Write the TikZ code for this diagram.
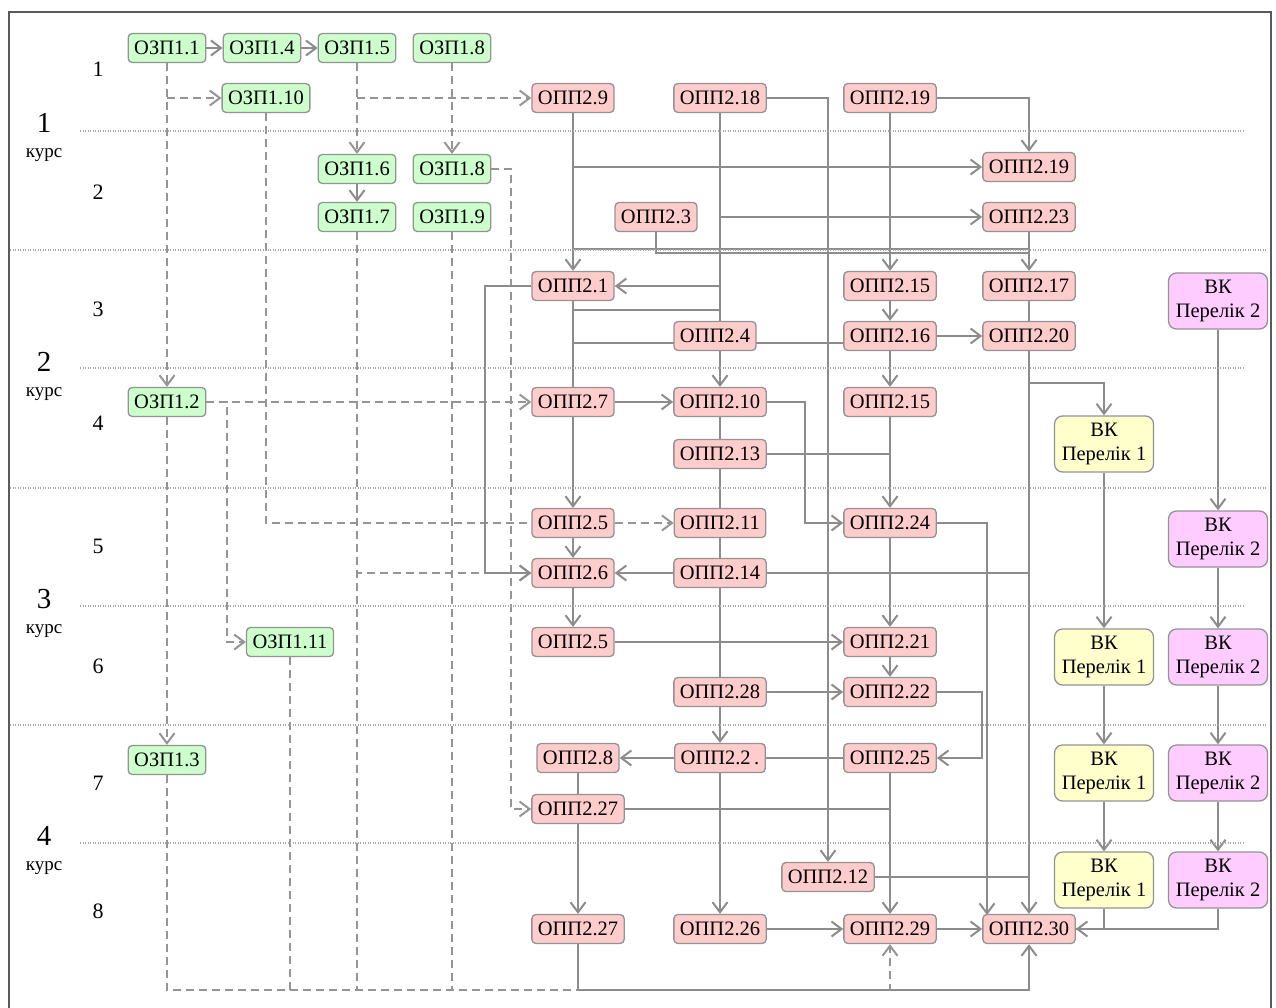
\documentclass[tikz,border=0pt]{standalone}
\usepackage{fontspec}
\setmainfont{Liberation Serif}
\usetikzlibrary{arrows.meta,calc}
\pgfdeclarelayer{bg}
\pgfsetlayers{bg,main}
\definecolor{lc}{HTML}{8C8C8C}
\definecolor{dc}{HTML}{959595}
\definecolor{bc}{HTML}{939393}
\definecolor{sc}{HTML}{A8A8A8}
\definecolor{fc}{HTML}{5A5A5A}
\definecolor{gfill}{HTML}{CCFFCC}
\definecolor{rfill}{HTML}{FFCCCC}
\definecolor{yfill}{HTML}{FFFFCC}
\definecolor{pfill}{HTML}{FFCCFF}
\begin{document}
\begin{tikzpicture}[x=1pt,y=-1pt,
  box/.style={draw=bc, line width=1.3pt, rounded corners=4pt, minimum height=29pt,
    inner xsep=6pt, inner ysep=0pt, font=\fontsize{20.5}{22}\selectfont, text=black},
  gbox/.style={box, fill=gfill},
  rbox/.style={box, fill=rfill},
  vk/.style={box, minimum width=99pt, minimum height=56pt, rounded corners=8pt, align=center,
    inner xsep=3pt, font=\fontsize{20.5}{24}\selectfont},
  ybox/.style={vk, fill=yfill},
  pbox/.style={vk, fill=pfill},
  con/.style={draw=lc, line width=2pt},
  dcon/.style={draw=dc, line width=2pt, dash pattern=on 8pt off 5pt},
  sepline/.style={draw=sc, line width=1.2pt, dash pattern=on 1.2pt off 1.3pt},
  semlbl/.style={anchor=base, font=\fontsize{22}{24}\selectfont},
  crsnum/.style={anchor=base, font=\fontsize{29}{30}\selectfont},
  crslbl/.style={anchor=base, font=\fontsize{19}{20}\selectfont},
  >={Straight Barb[length=10pt,width=15pt]}]
\useasboundingbox (0,0) rectangle (1276,1008);
\clip (0,0) rectangle (1276,1008);
\draw[fc, line width=2pt] (9,12) rectangle (1271,1030);

% separators
\foreach \yy in {250,488,725} {\draw[sepline] (10,\yy) -- (1267,\yy);}
\foreach \yy in {131,368,606,843} {\draw[sepline] (80,\yy) -- (1245,\yy);}

% labels
\foreach \n/\b in {1/77,2/200,3/316,4/430,5/553,6/673,7/790,8/918} {\node[semlbl] at (98,\b) {\n};}
\foreach \n/\b in {1/133,2/371,3/608,4/845} {
  \node[crsnum] at (44,\b) {\n};
  \node[crslbl] at (44,\b+25) {курс};}

% green nodes
\node[gbox] (z11) at (167,48) {ОЗП1.1};
\node[gbox] (z14) at (262,48) {ОЗП1.4};
\node[gbox] (z15) at (357,48) {ОЗП1.5};
\node[gbox] (z18a) at (452,48) {ОЗП1.8};
\node[gbox] (z110) at (266,98) {ОЗП1.10};
\node[gbox] (z16) at (357,169) {ОЗП1.6};
\node[gbox] (z18b) at (452,169) {ОЗП1.8};
\node[gbox] (z17) at (357,217) {ОЗП1.7};
\node[gbox] (z19) at (452,217) {ОЗП1.9};
\node[gbox] (z12) at (167,402) {ОЗП1.2};
\node[gbox] (z111) at (290,642) {ОЗП1.11};
\node[gbox] (z13) at (167,760) {ОЗП1.3};

% red nodes
\node[rbox] (p9) at (573,98) {ОПП2.9};
\node[rbox] (p18) at (720,98) {ОПП2.18};
\node[rbox] (p19a) at (890,98) {ОПП2.19};
\node[rbox] (p19b) at (1029,167) {ОПП2.19};
\node[rbox] (p3) at (656,217) {ОПП2.3};
\node[rbox] (p23) at (1029,217) {ОПП2.23};
\node[rbox] (p1) at (573,286) {ОПП2.1};
\node[rbox] (p15a) at (890,286) {ОПП2.15};
\node[rbox] (p17) at (1029,286) {ОПП2.17};
\node[rbox] (p4) at (715,336) {ОПП2.4};
\node[rbox] (p16) at (890,336) {ОПП2.16};
\node[rbox] (p20) at (1029,336) {ОПП2.20};
\node[rbox] (p7) at (573,402) {ОПП2.7};
\node[rbox] (p10) at (720,402) {ОПП2.10};
\node[rbox] (p15b) at (890,402) {ОПП2.15};
\node[rbox] (p13) at (720,454) {ОПП2.13};
\node[rbox] (p5a) at (573,523) {ОПП2.5};
\node[rbox] (p11) at (720,523) {ОПП2.11};
\node[rbox] (p24) at (890,523) {ОПП2.24};
\node[rbox] (p6) at (573,573) {ОПП2.6};
\node[rbox] (p14) at (720,573) {ОПП2.14};
\node[rbox] (p5b) at (573,642) {ОПП2.5};
\node[rbox] (p21) at (890,642) {ОПП2.21};
\node[rbox] (p28) at (720,692) {ОПП2.28};
\node[rbox] (p22) at (890,692) {ОПП2.22};
\node[rbox] (p8) at (578,758) {ОПП2.8};
\node[rbox] (p2) at (720,758) {ОПП2.2\,.};
\node[rbox] (p25) at (890,758) {ОПП2.25};
\node[rbox] (p27a) at (578,809) {ОПП2.27};
\node[rbox] (p12) at (828,877) {ОПП2.12};
\node[rbox] (p27b) at (578,929) {ОПП2.27};
\node[rbox] (p26) at (720,929) {ОПП2.26};
\node[rbox] (p29) at (890,929) {ОПП2.29};
\node[rbox] (p30) at (1029,929) {ОПП2.30};

% VK nodes
\node[ybox] (v1a) at (1104,444) {ВК\\Перелік 1};
\node[ybox] (v1b) at (1104,657) {ВК\\Перелік 1};
\node[ybox] (v1c) at (1104,773) {ВК\\Перелік 1};
\node[ybox] (v1d) at (1104,880) {ВК\\Перелік 1};
\node[pbox] (v2a) at (1218,301) {ВК\\Перелік 2};
\node[pbox] (v2b) at (1218,539) {ВК\\Перелік 2};
\node[pbox] (v2c) at (1218,657) {ВК\\Перелік 2};
\node[pbox] (v2d) at (1218,773) {ВК\\Перелік 2};
\node[pbox] (v2e) at (1218,880) {ВК\\Перелік 2};

% helper coordinates
\coordinate (bot) at (0,990);
\coordinate (c18) at (511,169);
\coordinate (c12) at (227,402);
\coordinate (c249) at (0,249);
\coordinate (c253) at (1029,253);
\coordinate (c310) at (720,310);
\coordinate (c343) at (0,343);
\coordinate (c383) at (0,383);
\coordinate (c485) at (485,286);
\coordinate (c805) at (805,402);
\coordinate (c987) at (987,915);
\coordinate (c982) at (982,692);

\begin{pgfonlayer}{bg}
% dashed (green) connectors
\draw[con,->] (z11) -- (z14);
\draw[con,->] (z14) -- (z15);
\draw[dcon,->] (z11) -- (z12);
\draw[dcon,->] (z11.south |- z110) -- (z110.west);
\draw[dcon,->] (z12) -- (z13);
\draw[dcon,->] (z13.south) |- (p29.south |- bot) -- (p29.south);
\draw[dcon] (z110.south) |- (p5a.west);
\draw[dcon,->] (p5a) -- (p11);
\draw[dcon,->] (z15.south |- z110) -- (p9.west);
\draw[dcon,->] (z15) -- (z16);
\draw[con,->] (z16) -- (z17);
\draw[dcon,->] (z17.south) |- (p6.west);
\draw[dcon] (z17.south) -- (z17.south |- bot);
\draw[dcon,->] (z18a) -- (z18b);
\draw[dcon,->] (z18b.east) -- (c18) |- (p27a.west);
\draw[dcon] (z19.south) -- (z19.south |- bot);
\draw[dcon,->] (z12) -- (p7);
\draw[dcon,->] (z12.east) -- (c12) |- (z111.west);
\draw[dcon] (z111.south) -- (z111.south |- bot);

% solid connectors
\draw[con,->] (p9) -- (p1);
\draw[con,->] (p9.south |- p19b) -- (p19b);
\draw[con] (p18.south) -- (p18.south |- p4.north);
\draw[con,->] (p18.south |- p23) -- (p23);
\draw[con,->] (p18.south |- p1) -- (p1);
\draw[con] (p1.south |- c310) -- (c310);
\draw[con,->] (p18.east) -| (p12.north);
\draw[con,->] (p19a) -- (p15a);
\draw[con,->] (p19a.east) -| (p19b.north);
\draw[con] (p1.north |- c249) -- (p17.north |- c249);
\draw[con] (p3.south) |- (c253);
\draw[con,->] (p23) -- (p17);
\draw[con] (p17) -- (p20);
\draw[con,->] (p1.west) -- (c485) |- (p6.west);
\draw[con] (p1) -- (p7);
\draw[con] (p1.south |- c343) -- (p16.west |- c343);
\draw[con,->] (p10.north |- p4.south) -- (p10.north);
\draw[con,->] (p15a) -- (p16);
\draw[con,->] (p16) -- (p15b);
\draw[con,->] (p15b) -- (p24);
\draw[con,->] (p24) -- (p21);
\draw[con,->] (p21) -- (p22);
\draw[con,->] (p16) -- (p20);
\draw[con,->] (p20) -- (p30);
\draw[con,->] (p20.south |- c383) -| (v1a.north);
\draw[con,->] (p7) -- (p10);
\draw[con,->] (p7) -- (p5a);
\draw[con,->] (p10.east) -- (c805) |- (p24.west);
\draw[con] (p10) -- (p28);
\draw[con] (p13.east) -- (p13.east -| p15b);
\draw[con,->] (p5a) -- (p6);
\draw[con,->] (p6) -- (p5b);
\draw[con,->] (p14) -- (p6);
\draw[con] (p14.east) -- (p14.east -| p20);
\draw[con,->] (p24.east) -| (c987);
\draw[con,->] (p5b) -- (p21);
\draw[con,->] (p28) -- (p22);
\draw[con,->] (p28) -- (p2);
\draw[con,->] (p22.east) -- (c982) |- (p25.east);
\draw[con] (p25) -- (p2);
\draw[con,->] (p2) -- (p8);
\draw[con,->] (p2) -- (p26);
\draw[con] (p8) -- (p27a);
\draw[con] (p27a.east) -- (p27a.east -| p29);
\draw[con,->] (p25) -- (p29);
\draw[con,->] (p27a) -- (p27b);
\draw[con] (p12.east) -- (p12.east -| p20);
\draw[con,->] (p26) -- (p29);
\draw[con,->] (p29) -- (p30);
\draw[con,->] (p27b.south) |- (p30.south |- bot) -- (p30.south);
\draw[con,->] (v2a) -- (v2b);
\draw[con,->] (v2b) -- (v2c);
\draw[con,->] (v2c) -- (v2d);
\draw[con,->] (v2d) -- (v2e);
\draw[con,->] (v1a) -- (v1b);
\draw[con,->] (v1b) -- (v1c);
\draw[con,->] (v1c) -- (v1d);
\draw[con,->] (v1d.south) |- (p30.east);
\draw[con] (v2e.south) |- (p30.east);
\end{pgfonlayer}
\end{tikzpicture}
\end{document}
